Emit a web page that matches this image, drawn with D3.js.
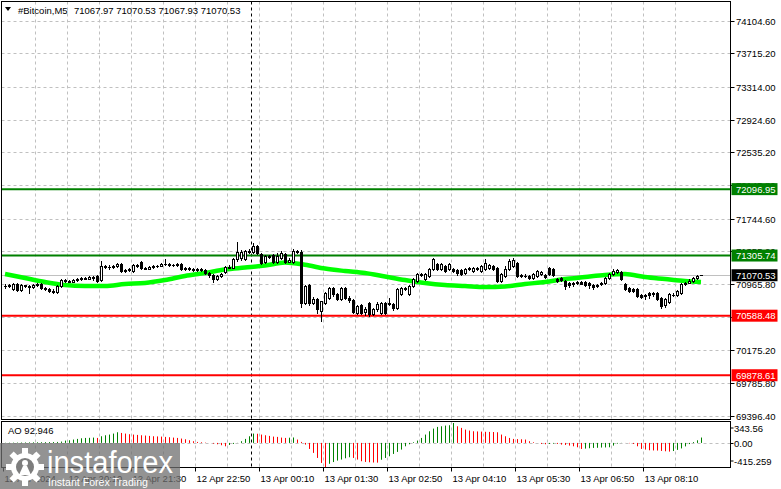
<!DOCTYPE html>
<html><head><meta charset="utf-8">
<script src="https://cdn.jsdelivr.net/npm/d3@7"></script>
<style>html,body{margin:0;padding:0;background:#fff;}svg{display:block;}text{font-family:"Liberation Sans",Arial,sans-serif;}</style>
</head><body><svg id="c" width="781" height="489"></svg>
<script>
const symbolTitle = "#Bitcoin,M5";
const titleValues = "71067.97 71070.53 71067.93 71070.53";
const timeLabels = ["12 Apr 2024","12 Apr 20:10","12 Apr 21:30","12 Apr 22:50","13 Apr 00:10","13 Apr 01:30","13 Apr 02:50","13 Apr 04:10","13 Apr 05:30","13 Apr 06:50","13 Apr 08:10"];
const timeLabelBars = [0,16,32,48,64,80,96,112,128,144,160];
const daySeparatorBar = 62;
const priceTicks = [74104.60,73715.20,73314.00,72924.60,72535.20,72145.80,71744.60,71355.20,70965.80,70576.40,70175.20,69785.80,69396.40];
const resistanceLevels = [72096.95,71305.74];
const supportLevels = [70588.48,69878.61];
const currentPrice = 71070.53;
const aoTicks = [343.56,0,-415.259];
const aoTitle = "AO 92.946";

const opens = [70942,70942,70906,70966,70894,70954,70942,70930,70954,70966,
 70918,70906,70882,70870,70942,71013,71001,70995,71013,71025,
 71037,71031,71049,71061,71013,71180,71174,71168,71180,71204,
 71121,71133,71121,71192,71228,71156,71150,71168,71180,71186,
 71204,71210,71192,71198,71204,71145,71156,71145,71133,71145,
 71133,71097,71073,71025,71061,71109,71168,71162,71264,71276,
 71264,71359,71347,71419,71323,71228,71299,71311,71228,71276,
 71323,71228,71228,71359,71347,70739,70954,70739,70787,70644,
 70739,70799,70918,70846,70787,70918,70799,70775,70620,70715,
 70632,70739,70608,70667,70620,70739,70727,70727,70679,70846,
 70918,70846,70942,71001,71085,71025,71061,71145,71204,71145,
 71180,71145,71145,71133,71133,71097,71145,71121,71156,71121,
 71145,71156,71180,71156,71001,71061,71145,71180,71216,71073,
 71067,71061,71037,71061,71085,71073,71156,71145,71025,71037,
 71001,70978,70978,70990,70990,70990,70978,70954,70954,70978,
 70978,71037,71085,71109,71109,70966,70918,70906,70906,70835,
 70835,70858,70858,70858,70799,70715,70751,70835,70835,70858,
 70966,70978,71001,71037,71067.97];
const highs = [70966,70966,70978,70978,70966,70954,70954,70966,70978,70978,
 70930,70918,70906,70954,71025,71025,71013,71025,71037,71049,
 71049,71061,71061,71073,71240,71192,71192,71192,71216,71216,
 71145,71156,71204,71204,71240,71168,71180,71192,71192,71216,
 71264,71216,71204,71216,71216,71168,71168,71156,71156,71156,
 71145,71109,71085,71073,71097,71180,71192,71276,71466,71371,
 71371,71383,71454,71431,71335,71311,71311,71323,71335,71359,
 71335,71276,71383,71371,71371,70954,70966,70811,70799,70763,
 70870,70930,70930,70858,70930,70930,70823,70787,70715,70727,
 70691,70751,70679,70751,70751,70751,70799,70739,70918,70930,
 70930,70954,71037,71097,71097,71097,71156,71276,71216,71216,
 71192,71216,71156,71145,71145,71156,71168,71168,71168,71192,
 71264,71204,71192,71168,71097,71180,71264,71276,71228,71085,
 71085,71073,71097,71133,71121,71085,71168,71156,71037,71049,
 71013,70990,70990,71001,71001,71001,70990,70966,70966,70990,
 71049,71097,71145,71145,71121,70978,70930,70918,70918,70846,
 70846,70870,70870,70870,70811,70799,70858,70858,70894,70978,
 70990,71025,71049,71073,71070.53];
const lows = [70918,70930,70894,70882,70882,70930,70858,70918,70942,70906,
 70894,70870,70858,70858,70930,70990,70990,70995,71001,71013,
 71025,71025,71013,70990,71001,71156,71145,71156,71168,71109,
 71109,71121,71109,71168,71145,71145,71145,71156,71168,71180,
 71192,71180,71180,71180,71133,71133,71133,71121,71121,71121,
 71085,71049,70990,71013,71049,71097,71156,71156,71240,71252,
 71252,71335,71335,71323,71204,71216,71276,71216,71216,71264,
 71216,71228,71216,71335,70691,70727,70715,70727,70620,70524,
 70727,70787,70823,70775,70775,70787,70751,70620,70608,70608,
 70596,70584,70596,70644,70608,70608,70715,70655,70667,70835,
 70894,70835,70930,70990,71061,71013,71049,71133,71133,71133,
 71109,71133,71109,71073,71073,71085,71133,71109,71133,71109,
 71133,71145,71133,70990,70990,71049,71133,71168,71049,71049,
 71049,71025,71025,71049,71073,71037,71073,71061,70990,71001,
 70906,70930,70942,70966,70966,70942,70918,70906,70930,70954,
 70966,71025,71073,71097,71013,70894,70870,70870,70811,70799,
 70787,70799,70823,70775,70679,70691,70739,70823,70823,70846,
 70954,70978,70990,71025,71067.93];
const closes = [70942,70954,70966,70894,70954,70942,70930,70954,70966,70918,
 70906,70882,70870,70942,71013,71001,70995,71013,71025,71037,
 71031,71049,71037,71001,71180,71174,71168,71180,71204,71121,
 71133,71145,71192,71180,71156,71150,71168,71180,71186,71204,
 71210,71192,71198,71204,71145,71156,71145,71133,71145,71133,
 71097,71073,71025,71061,71085,71168,71162,71264,71347,71347,
 71359,71347,71419,71335,71216,71299,71293,71228,71299,71335,
 71228,71252,71359,71347,70739,70942,70739,70787,70667,70763,
 70858,70918,70846,70787,70918,70799,70775,70632,70703,70620,
 70667,70608,70667,70727,70739,70620,70739,70679,70906,70918,
 70906,70942,71025,71085,71073,71085,71145,71264,71145,71204,
 71121,71204,71121,71097,71085,71145,71156,71156,71145,71180,
 71216,71192,71145,71001,71085,71145,71240,71252,71061,71067,
 71061,71037,71085,71121,71109,71049,71085,71073,71001,71013,
 70942,70954,70966,70978,70972,70954,70954,70930,70942,70966,
 71037,71085,71121,71133,71025,70906,70882,70888,70823,70811,
 70823,70835,70846,70787,70703,70787,70846,70840,70882,70966,
 70978,71001,71037,71061,71070.53];

const maBars = [0,5,10,15,20,25,30,35,40,45,50,55,60,65,70,75,80,85,90,95,100,105,110,115,120,125,130,135,140,145,150,155,160,165,170,174];
const maValues = [71085,71037,70990,70954,70942,70942,70966,70978,71013,71061,71097,71139,71162,71186,71222,71195,71150,71121,71097,71055,71013,70978,70954,70942,70930,70936,70966,70990,71025,71049,71073,71085,71049,71025,71001,70990];

const aoValues = [4,5,6,7,8,9,10,11,12,13,
 14,15,16,17,23,40,46,58,69,80,
 86,88,92,86,115,132,144,161,184,172,
 161,150,144,138,132,127,121,115,112,109,
 104,98,92,86,75,63,46,29,17,12,
 6,0,-12,-23,-40,-58,-35,-17,2,29,
 69,115,161,158,144,132,121,109,104,92,
 86,90,94,58,17,-29,-104,-172,-259,-345,
 -415.259,-360,-330,-305,-287,-265,-247,-259,-287,-316,
 -328,-334,-338,-340,-290,-259,-230,-190,-155,-115,
 -58,-23,12,40,86,144,201,247,276,287,
 299,305,343.56,287,259,230,213,201,198,195,
 192,190,188,184,144,115,86,69,66,63,
 58,29,12,0,-17,-23,-17,-12,-17,-29,
 -35,-46,-58,-75,-104,-98,-92,-86,-84,-80,
 -78,-75,-46,-12,2,1,-6,-17,-58,-104,
 -115,-127,-130,-132,-138,-144,-150,-140,-120,-95,
 -60,-20,15,45,92.946];

// ---------- drawing ----------
const svg = d3.select("#c");
const L = 1.5, R = 730.5, mainTop = 1.5, mainBot = 419.5, aoTop = 421.5, aoBot = 467.5;
const n = closes.length;
const x = d3.scaleLinear().domain([0, n - 1]).range([5, 5 + 4 * (n - 1)]);
const y = d3.scaleLinear().domain([69396.4, 74104.6]).range([415.7, 20.7]);
const ya = d3.scaleLinear().domain([-415.259, 343.56]).range([467, 423]);
const gridColor = "#c0c0c0";

svg.append("rect").attr("width",781).attr("height",489).attr("fill","#fff");

const defs = svg.append("defs");
defs.append("clipPath").attr("id","mainClip").append("rect").attr("x",L).attr("y",mainTop).attr("width",R-L).attr("height",mainBot-mainTop);
defs.append("clipPath").attr("id","aoClip").append("rect").attr("x",L).attr("y",aoTop).attr("width",R-L).attr("height",aoBot-aoTop);

// horizontal grid (main)
const gGrid = svg.append("g").attr("stroke",gridColor).attr("stroke-dasharray","3,3").attr("stroke-width",1);
priceTicks.forEach(p => {
  const yy = Math.round(y(p)) + 0.5;
  gGrid.append("line").attr("x1",L).attr("x2",R).attr("y1",yy).attr("y2",yy);
});
// vertical grid
const gridBars = d3.range(8, n, 8);
gridBars.forEach(b => {
  const xx = x(b) - 2 + 0.5;
  gGrid.append("line").attr("x1",xx).attr("x2",xx).attr("y1",mainTop).attr("y2",mainBot);
  gGrid.append("line").attr("x1",xx).attr("x2",xx).attr("y1",aoTop).attr("y2",aoBot);
});
// AO zero grid
gGrid.append("line").attr("x1",L).attr("x2",R).attr("y1",Math.round(ya(0))+0.5).attr("y2",Math.round(ya(0))+0.5);

// day separator
const sx = x(daySeparatorBar) - 2 + 0.5;
svg.append("line").attr("x1",sx).attr("x2",sx).attr("y1",mainTop).attr("y2",mainBot).attr("stroke","#000").attr("stroke-dasharray","3,3");
svg.append("line").attr("x1",sx).attr("x2",sx).attr("y1",aoTop).attr("y2",aoBot).attr("stroke","#000").attr("stroke-dasharray","3,3");

// level lines
const gMain = svg.append("g").attr("clip-path","url(#mainClip)");
resistanceLevels.forEach(p => gMain.append("line").attr("x1",L).attr("x2",R).attr("y1",y(p)).attr("y2",y(p)).attr("stroke","#008000").attr("stroke-width",2));
supportLevels.forEach(p => gMain.append("line").attr("x1",L).attr("x2",R).attr("y1",y(p)).attr("y2",y(p)).attr("stroke","#ff0000").attr("stroke-width",2));
// current price line
const cy = Math.round(y(currentPrice)) + 0.5;
gMain.append("line").attr("x1",L).attr("x2",R).attr("y1",cy).attr("y2",cy).attr("stroke","#c0c0c0").attr("stroke-width",1);

// MA line
const maLine = d3.line().x((d,i) => x(maBars[i])).y(d => y(d)).curve(d3.curveMonotoneX);
gMain.append("path").attr("d", maLine(maValues)).attr("fill","none").attr("stroke","#00ff00").attr("stroke-width",4.5);

// candles
const gC = gMain.append("g");
for (let i = 0; i < n; i++) {
  const cx = x(i);
  const yh = Math.round(y(highs[i])), yl = Math.round(y(lows[i]));
  const yo = Math.round(y(opens[i])), yc = Math.round(y(closes[i]));
  gC.append("line").attr("x1",cx+0.5).attr("x2",cx+0.5).attr("y1",yh).attr("y2",yl+1).attr("stroke","#000").attr("stroke-width",1);
  const top = Math.min(yo,yc), bot = Math.max(yo,yc);
  if (bot - top < 1) {
    gC.append("line").attr("x1",cx-1).attr("x2",cx+2).attr("y1",top+0.5).attr("y2",top+0.5).attr("stroke","#000");
  } else if (closes[i] >= opens[i]) {
    gC.append("rect").attr("x",cx-0.5).attr("y",top+0.5).attr("width",2).attr("height",bot-top).attr("fill","#fff").attr("stroke","#000").attr("stroke-width",1);
  } else {
    gC.append("rect").attr("x",cx-1).attr("y",top).attr("width",3).attr("height",bot-top+1).attr("fill","#000");
  }
}

// AO bars
const gA = svg.append("g").attr("clip-path","url(#aoClip)");
const z0 = ya(0);
aoValues.forEach((v,i) => {
  const up = i === 0 ? true : v > aoValues[i-1];
  gA.append("line").attr("x1",x(i)+0.5).attr("x2",x(i)+0.5).attr("y1",z0).attr("y2",ya(v))
    .attr("stroke", up ? "#008000" : "#ff0000").attr("stroke-width",1);
});

// frames
svg.append("rect").attr("x",L).attr("y",mainTop).attr("width",R-L).attr("height",mainBot-mainTop).attr("fill","none").attr("stroke","#000");
svg.append("rect").attr("x",L).attr("y",aoTop).attr("width",R-L).attr("height",aoBot-aoTop).attr("fill","none").attr("stroke","#000");

// price axis
const gP = svg.append("g").attr("font-size",9.5).attr("fill","#000");
priceTicks.forEach(p => {
  const yy = Math.round(y(p)) + 0.5;
  gP.append("line").attr("x1",R).attr("x2",R+4).attr("y1",yy).attr("y2",yy).attr("stroke","#000");
  gP.append("text").attr("x",736).attr("y",yy+3.5).text(p.toFixed(2));
});
function priceBox(p, bg) {
  const yy = y(p);
  gP.append("rect").attr("x",R+1).attr("y",yy-6).attr("width",46).attr("height",12).attr("fill",bg);
  gP.append("text").attr("x",736).attr("y",yy+3.5).attr("fill","#fff").text(p.toFixed(2));
}
resistanceLevels.forEach(p => priceBox(p, "#008000"));
supportLevels.forEach(p => priceBox(p, "#ff0000"));
priceBox(currentPrice, "#000");

// AO axis
aoTicks.forEach(v => {
  const yy = v === 0 ? Math.round(ya(0)) + 0.5 : (v > 0 ? 428 : 461);
  gP.append("line").attr("x1",R).attr("x2",R+3).attr("y1",yy).attr("y2",yy).attr("stroke","#000");
  gP.append("text").attr("x",734).attr("y",yy+3.5).text(v === 0 ? "0.00" : String(v));
});
svg.append("text").attr("x",8).attr("y",433.5).attr("font-size",9.5).text(aoTitle);

// time axis
const gT = svg.append("g").attr("font-size",9.5).attr("fill","#000");
timeLabelBars.forEach((b,i) => {
  const xx = x(b) - 2 + 0.5;
  gT.append("line").attr("x1",xx).attr("x2",xx).attr("y1",aoBot).attr("y2",aoBot+4).attr("stroke","#000");
  gT.append("text").attr("x",xx+1).attr("y",482).text(timeLabels[i]);
});

// title
svg.append("path").attr("d","M5,7L11,7L8,11Z").attr("fill","#000");
svg.append("text").attr("x",18).attr("y",14).attr("font-size",9.5).text(symbolTitle);
svg.append("text").attr("x",74).attr("y",14).attr("font-size",9.5).text(titleValues);

// watermark
const wm = svg.append("g");
wm.append("rect").attr("x",0).attr("y",443).attr("width",180).attr("height",46).attr("fill","#6f6f6f").attr("opacity",0.75);
const gear = wm.append("g").attr("transform","translate(25,467)");
for (let i = 0; i < 8; i++) gear.append("rect").attr("x",-3).attr("y",-19).attr("width",6).attr("height",8).attr("fill","#fff").attr("transform",`rotate(${i*45})`);
gear.append("circle").attr("r",14).attr("fill","#fff");
gear.append("circle").attr("r",9).attr("fill","#7d7d7d");
gear.append("circle").attr("cy",-4).attr("r",3).attr("fill","#fff");
gear.append("path").attr("d","M-6,8 L-2,-1 L2,-1 L6,8 Z").attr("fill","#fff");
wm.append("text").attr("x",47).attr("y",473).attr("font-family","Lato,'Open Sans',sans-serif").attr("font-size",31).attr("fill","#fff").attr("textLength",126).attr("lengthAdjust","spacingAndGlyphs").text("instaforex");
wm.append("text").attr("x",48).attr("y",486).attr("font-family","Lato,'Open Sans',sans-serif").attr("font-size",11.5).attr("fill","#fff").attr("textLength",100).attr("lengthAdjust","spacingAndGlyphs").text("Instant Forex Trading");
</script></body></html>
